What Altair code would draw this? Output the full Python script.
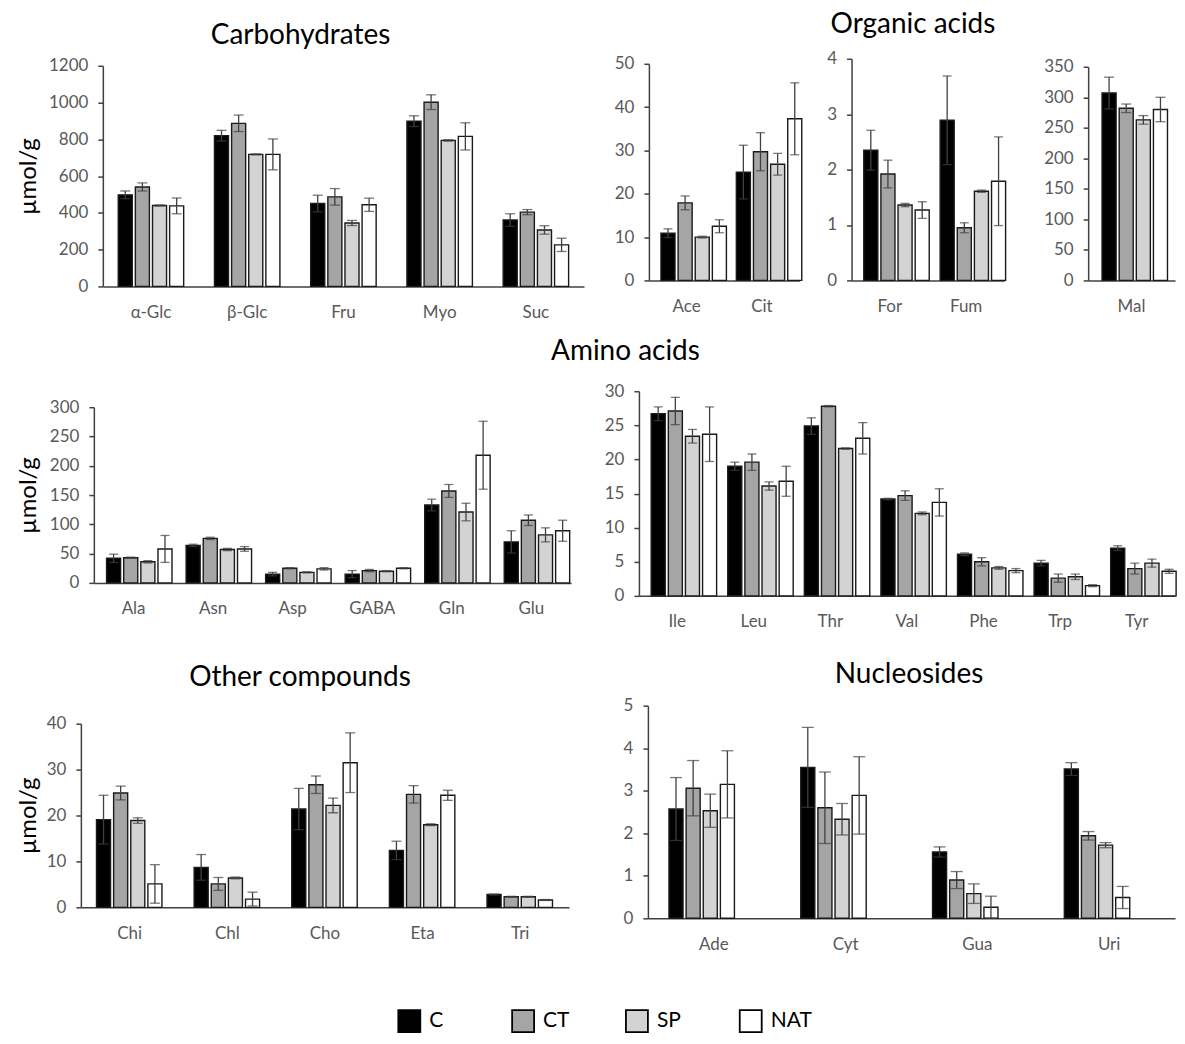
import altair as alt
import pandas as pd

GROUPS = ["C", "CT", "SP", "NAT"]
FILLS = ["#000000", "#a5a5a5", "#d3d3d3", "#ffffff"]

# Carbohydrates
CARB_CATS = ["α-Glc", "β-Glc", "Fru", "Myo", "Suc"]
CARB_MEAN = {"C": [498, 820, 451, 899, 361], "CT": [541, 887, 487, 1002, 404],
             "SP": [440, 718, 345, 794, 307], "NAT": [438, 718, 444, 816, 226]}
CARB_ERR = {"C": [21, 29, 45, 29, 34], "CT": [22, 45, 45, 40, 14],
            "SP": [3, 3, 14, 4, 23], "NAT": [43, 84, 36, 74, 36]}

# Organic acids
ACE_CATS = ["Ace", "Cit"]
ACE_MEAN = {"C": [10.9, 25.0], "CT": [17.9, 29.7], "SP": [10.0, 26.8], "NAT": [12.5, 37.3]}
ACE_ERR = {"C": [1.0, 6.2], "CT": [1.6, 4.4], "SP": [0.2, 2.5], "NAT": [1.5, 8.3]}

FOR_CATS = ["For", "Fum"]
FOR_MEAN = {"C": [2.35, 2.89], "CT": [1.92, 0.95], "SP": [1.36, 1.61], "NAT": [1.27, 1.79]}
FOR_ERR = {"C": [0.36, 0.80], "CT": [0.25, 0.09], "SP": [0.03, 0.02], "NAT": [0.15, 0.80]}

MAL_CATS = ["Mal"]
MAL_MEAN = {"C": [307], "CT": [282], "SP": [263], "NAT": [280]}
MAL_ERR = {"C": [26], "CT": [7], "SP": [7], "NAT": [20]}

# Amino acids
AAL_CATS = ["Ala", "Asn", "Asp", "GABA", "Gln", "Glu"]
AAL_MEAN = {"C": [42, 64, 15, 15, 133, 70], "CT": [43, 76, 25, 21, 157, 107],
            "SP": [36, 57, 18, 20, 121, 82], "NAT": [58, 58, 24, 25, 218, 89]}
AAL_ERR = {"C": [7, 2, 3, 6, 10, 19], "CT": [1, 2, 1, 2, 11, 9],
           "SP": [2, 2, 1, 1, 15, 12], "NAT": [23, 4, 2, 1, 58, 18]}

AAR_CATS = ["Ile", "Leu", "Thr", "Val", "Phe", "Trp", "Tyr"]
AAR_MEAN = {"C": [26.7, 19.0, 24.9, 14.2, 6.1, 4.8, 7.0],
            "CT": [27.1, 19.6, 27.8, 14.7, 5.0, 2.6, 4.0],
            "SP": [23.4, 16.1, 21.6, 12.1, 4.1, 2.8, 4.8],
            "NAT": [23.7, 16.8, 23.1, 13.7, 3.7, 1.5, 3.6]}
AAR_ERR = {"C": [1.0, 0.6, 1.2, 0.1, 0.2, 0.4, 0.35],
           "CT": [2.0, 1.2, 0.1, 0.7, 0.6, 0.6, 0.8],
           "SP": [1.0, 0.6, 0.1, 0.2, 0.2, 0.4, 0.6],
           "NAT": [4.0, 2.2, 2.3, 2.0, 0.3, 0.15, 0.3]}

# Other compounds
OTH_CATS = ["Chi", "Chl", "Cho", "Eta", "Tri"]
OTH_MEAN = {"C": [19.1, 8.7, 21.4, 12.4, 2.8], "CT": [24.9, 5.1, 26.7, 24.6, 2.3],
            "SP": [18.9, 6.4, 22.2, 18.0, 2.3], "NAT": [5.1, 1.8, 31.5, 24.4, 1.6]}
OTH_ERR = {"C": [5.3, 2.8, 4.5, 2.0, 0.1], "CT": [1.5, 1.4, 1.9, 1.9, 0.1],
           "SP": [0.6, 0.2, 1.6, 0.2, 0.1], "NAT": [4.2, 1.5, 6.5, 1.1, 0.1]}

# Nucleosides
NUC_CATS = ["Ade", "Cyt", "Gua", "Uri"]
NUC_MEAN = {"C": [2.57, 3.55, 1.56, 3.51], "CT": [3.06, 2.60, 0.90, 1.94],
            "SP": [2.53, 2.33, 0.58, 1.72], "NAT": [3.15, 2.89, 0.26, 0.49]}
NUC_ERR = {"C": [0.74, 0.94, 0.12, 0.15], "CT": [0.65, 0.84, 0.20, 0.10],
           "SP": [0.39, 0.37, 0.23, 0.06], "NAT": [0.79, 0.91, 0.26, 0.26]}

FONT = "Lato"
GRAY = "#595959"
LINE = "#404040"
FILL_SCALE = alt.Scale(domain=GROUPS, range=FILLS)


def frame(cats, mean, err):
    rows = []
    for g in GROUPS:
        for c, v, e in zip(cats, mean[g], err[g]):
            rows.append({"cat": c, "grp": g, "val": v, "lo": max(v - e, 0), "hi": v + e})
    return pd.DataFrame(rows)


def panel(cats, mean, err, w, h, ymax, step, top, cap, ytitle=None, tx=0, title=None):
    df = frame(cats, mean, err)
    n = int(round(ymax / step))
    yscale = alt.Scale(domain=[0, ymax], range=[h, top], nice=False)
    yargs = dict(values=[i * step for i in range(n + 1)], grid=False, tickSize=5,
                 tickColor=LINE, tickWidth=1.5, domainColor=LINE, domainWidth=1.5,
                 labelFontSize=17, labelFont=FONT, labelColor=GRAY, labelPadding=10,
                 format="d")
    if ytitle:
        yaxis = alt.Axis(title=ytitle, titleFontSize=24, titleFont=FONT,
                         titleFontWeight="normal", titleColor="#000000", titleAngle=270,
                         titleX=tx, titleY=(h + top) / 2, titleBaseline="middle",
                         titleAlign="center", **yargs)
    else:
        yaxis = alt.Axis(title=None, **yargs)
    x = alt.X("cat:N", sort=cats, title=None,
              scale=alt.Scale(paddingInner=0.32, paddingOuter=0.16),
              axis=alt.Axis(labelAngle=0, ticks=False, tickSize=0, labelPadding=26,
                            labelBaseline="middle", labelFontSize=17, labelFont=FONT,
                            labelColor=GRAY, domainColor=LINE, domainWidth=1.5))
    xo = alt.XOffset("grp:N", sort=GROUPS, scale=alt.Scale(paddingInner=0.18, paddingOuter=0))
    base = alt.Chart(df)
    bars = base.mark_bar(stroke="#1a1a1a", strokeWidth=1.4).encode(
        x=x, xOffset=xo, y=alt.Y("val:Q", scale=yscale, axis=yaxis),
        fill=alt.Fill("grp:N", scale=FILL_SCALE, legend=None))
    rules = base.mark_rule(color=LINE, strokeWidth=1.3).encode(
        x=x, xOffset=xo, y=alt.Y("lo:Q", scale=yscale, axis=yaxis), y2="hi:Q")
    cap_lo = base.mark_tick(color=LINE, thickness=1.3, size=cap).encode(
        x=x, xOffset=xo, y=alt.Y("lo:Q", scale=yscale, axis=yaxis))
    cap_hi = base.mark_tick(color=LINE, thickness=1.3, size=cap).encode(
        x=x, xOffset=xo, y=alt.Y("hi:Q", scale=yscale, axis=yaxis))
    ch = alt.layer(bars, rules, cap_lo, cap_hi).properties(width=w, height=h)
    if title:
        ch = ch.properties(title=title)
    return ch


def ttl(text, offset, dx=0, frame_="bounds"):
    return alt.TitleParams(text=text, fontSize=28, font=FONT, fontWeight="normal",
                           color="#000000", anchor="middle", frame=frame_,
                           baseline="bottom", offset=offset, dx=dx)


def spacer(w, anchor=False):
    # empty block; the anchor variant holds a white hairline at its origin so
    # every row starts at the same left edge
    ch = alt.Chart(pd.DataFrame({"a": [0]}))
    if anchor:
        ch = ch.mark_rule(color="#ffffff", strokeWidth=1).encode(
            x=alt.value(0), y=alt.value(0), y2=alt.value(1))
    else:
        ch = ch.mark_text(text="").encode(x=alt.value(0), y=alt.value(0))
    return ch.properties(width=w, height=1)


carb = panel(CARB_CATS, CARB_MEAN, CARB_ERR, 482, 228, 1200, 200, 7, 10,
             ytitle="µmol/g", tx=28 - 102, title=ttl("Carbohydrates", -21))
ace = panel(ACE_CATS, ACE_MEAN, ACE_ERR, 151, 222, 50, 10, 5, 9)
forf = panel(FOR_CATS, FOR_MEAN, FOR_ERR, 153, 222, 4, 1, 0, 9,
             title=ttl("Organic acids", -17, -15, "group"))
mal = panel(MAL_CATS, MAL_MEAN, MAL_ERR, 87, 222, 350, 50, 8, 10)

aal = panel(AAL_CATS, AAL_MEAN, AAL_ERR, 478, 192, 300, 50, 16, 9,
            ytitle="µmol/g", tx=28 - 93)
aar = panel(AAR_CATS, AAR_MEAN, AAR_ERR, 537, 205, 30, 5, 0, 9,
            title=ttl("Amino acids", -12, -282, "group"))

oth = panel(OTH_CATS, OTH_MEAN, OTH_ERR, 489, 202, 40, 10, 18, 10,
            ytitle="µmol/g", tx=28 - 80, title=ttl("Other compounds", -14, 7))
nuc = panel(NUC_CATS, NUC_MEAN, NUC_ERR, 528, 213, 5, 1, 0, 12,
            title=ttl("Nucleosides", -20, 10))

# legend block
leg_df = pd.DataFrame({"grp": GROUPS})
leg_x = alt.X("grp:N", sort=GROUPS, scale=alt.Scale(type="point", padding=0), axis=None)
leg_sq = alt.Chart(leg_df).mark_square(size=484, stroke="#000000", strokeWidth=1.8,
                                       opacity=1).encode(
    x=leg_x, y=alt.value(11), fill=alt.Fill("grp:N", scale=FILL_SCALE, legend=None))
leg_tx = alt.Chart(leg_df).mark_text(align="left", baseline="middle", dx=20, fontSize=21,
                                     font=FONT, color="#000000").encode(
    x=leg_x, y=alt.value(11), text="grp:N")
legend = alt.layer(leg_sq, leg_tx).properties(width=342, height=22)

row1 = alt.hconcat(spacer(92, True), carb, spacer(65), ace, spacer(52), forf, spacer(84), mal,
                   spacing=0, bounds="flush")
row2 = alt.hconcat(spacer(83, True), aal, spacer(68), aar, spacing=0, bounds="flush")
row3 = alt.hconcat(spacer(70, True), oth, spacer(79), nuc, spacing=0, bounds="flush")
row4 = alt.hconcat(spacer(399, True), legend, spacing=0, bounds="flush")

chart = alt.vconcat(
    alt.vconcat(alt.vconcat(row1, row2, spacing=18), row3, spacing=31), row4, spacing=54
).properties(
    padding={"left": 2, "top": 2, "right": 0, "bottom": 0}
).configure(font=FONT).configure_view(strokeWidth=0)

chart.save("out.html", embed_options={"renderer": "svg", "actions": False})
